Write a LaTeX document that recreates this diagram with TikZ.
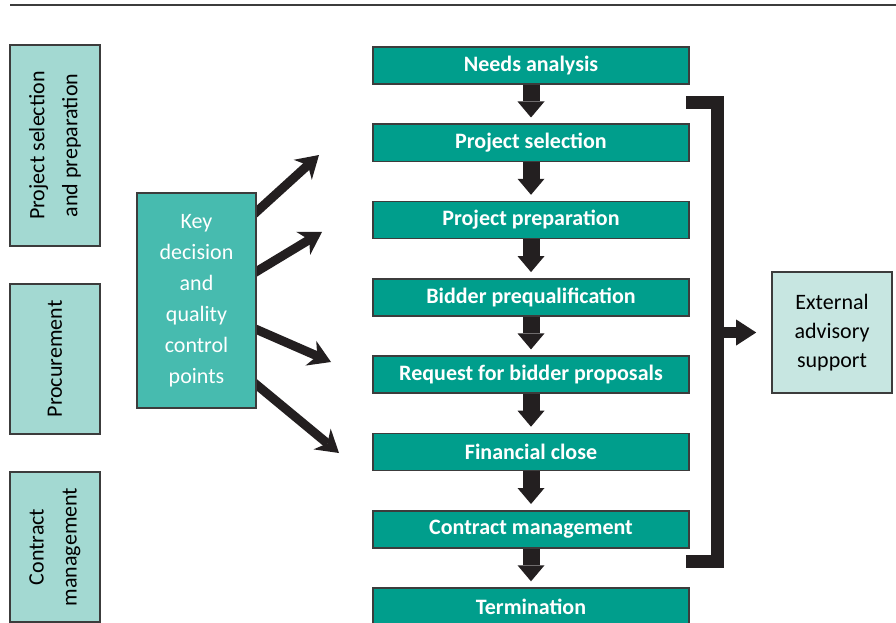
\documentclass[tikz,border=0pt]{standalone}
\usepackage{fontspec}
\setmainfont{Carlito}
\usetikzlibrary{arrows.meta,calc,backgrounds}

\definecolor{stagegreen}{RGB}{0,158,140}
\definecolor{keygreen}{RGB}{71,187,175}
\definecolor{phasegreen}{RGB}{163,217,210}
\definecolor{advisegreen}{RGB}{199,230,225}
\definecolor{arrowblack}{RGB}{35,31,32}
\definecolor{edgegray}{RGB}{60,60,60}

\tikzset{
  box/.style={draw=edgegray, line width=1.6pt, inner sep=0pt, align=center, font=\fontsize{22}{29}\selectfont},
  stage/.style={box, fill=stagegreen, text=white, minimum width=316pt, minimum height=37pt, font=\fontsize{22}{26}\selectfont\bfseries},
  phase/.style={box, fill=phasegreen, rotate=90, minimum height=90pt, font=\fontsize{22}{33}\selectfont},
  flow/.style={arrowblack, line width=17pt, -{Triangle[length=16pt,width=27pt,line width=0pt]}, shorten >=6pt},
  spoke/.style={arrowblack, line width=9pt, -{Stealth[length=22pt,width=27pt,inset=7pt,line width=0pt]}},
  bracket/.style={arrowblack, line width=13pt, line join=miter},
}

\begin{document}
\begin{tikzpicture}[x=1pt,y=-1pt]
  \useasboundingbox (0,0) rectangle (896,623);
  \draw[edgegray, line width=2.5pt] (10,5) -- (896,5);

  % phases on the left
  \node[phase, minimum width=201pt] (selphase) at (55,145.5) {Project selection\\and preparation};
  \node[phase, minimum width=150pt] (procure) at (55,359) {Procurement};
  \node[phase, minimum width=150pt] (cmphase) at (55,547) {Contract\\management};

  % the main chain of stages
  \foreach \name/\txt [count=\i from 0] in {needs/Needs analysis, sel/Project selection, prep/Project preparation, prequal/Bidder prequalification, request/Request for bidder proposals, close/Financial close, manage/Contract management, term/Termination}
    \node[stage] (\name) at (531,65.5+77.3*\i) {\txt};
  \foreach \a/\b in {needs/sel, sel/prep, prep/prequal, prequal/request, request/close, close/manage, manage/term}
    \draw[flow] (\a) -- (\b);

  % decision points
  \node[box, fill=keygreen, text=white, minimum width=119pt, minimum height=215pt, font=\fontsize{22}{31}\selectfont] (key) at (196.5,300.5) {Key\\decision\\and\\quality\\control\\points};
  \coordinate (tip1) at (319,155);
  \coordinate (tip2) at (322,232);
  \coordinate (tip3) at (331,362);
  \coordinate (tip4) at (339,453);
  \begin{scope}[on background layer]
    \draw[spoke] ($(key.east)+(-6,-83.5)$) -- (tip1);
    \draw[spoke] ($(key.east)+(-6,-25.5)$) -- (tip2);
    \draw[spoke] ($(key.east)+(-6,26.5)$) -- (tip3);
    \draw[spoke] ($(key.east)+(-6,79.5)$) -- (tip4);
  \end{scope}

  % advisory support
  \node[box, fill=advisegreen, minimum width=120pt, minimum height=121pt] (advice) at (832,332.5) {External\\advisory\\support};
  \coordinate (brtop) at (686,103);
  \coordinate (brbot) at (686,561);
  \coordinate (brmid) at (717,332.5);
  \draw[bracket] (brtop) -- ++(31,0) |- (brbot);
  \draw[flow, line width=11pt, -{Triangle[length=20pt,width=26pt,line width=0pt]}, shorten >=15pt] (brmid) -- (advice);
\end{tikzpicture}
\end{document}
